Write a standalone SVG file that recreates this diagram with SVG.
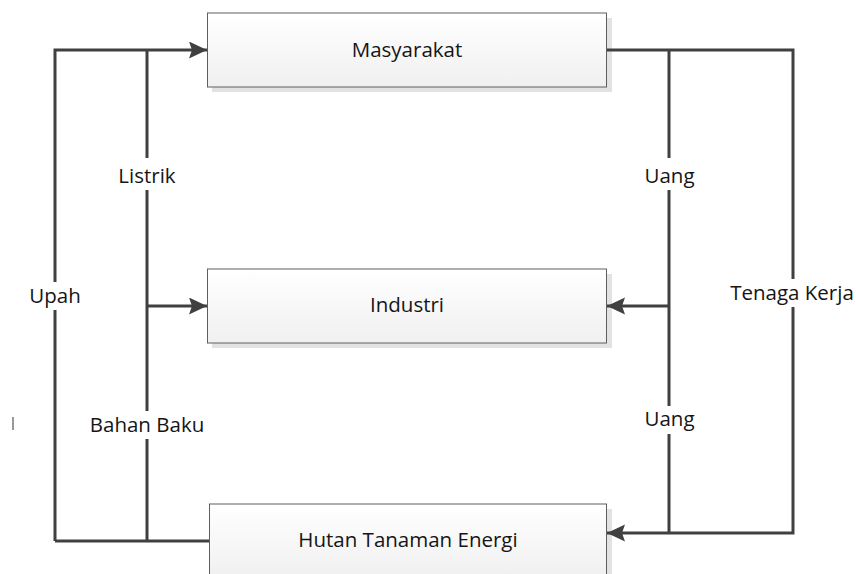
<svg xmlns="http://www.w3.org/2000/svg" width="856" height="574" viewBox="0 0 856 574">
<defs>
<linearGradient id="g" x1="0" y1="0" x2="0" y2="1">
<stop offset="0" stop-color="#ffffff"/>
<stop offset="1" stop-color="#f0f0f0"/>
</linearGradient>
<marker id="ah" markerUnits="userSpaceOnUse" markerWidth="20" markerHeight="18" refX="18" refY="8.5" orient="auto">
<path d="M0,0 L18,8.5 L0,17 L3,8.5 Z" fill="#404040"/>
</marker>
</defs>
<style>
.box{fill:url(#g);stroke:#5e5e5e;stroke-width:1}
.sh{fill:#e2e2e2}
.t{font-family:"Open Sans","Liberation Sans",sans-serif;font-size:20.5px;fill:#151515;text-anchor:middle}
.c{fill:none;stroke:#404040;stroke-width:3}
.bg{fill:#ffffff}
</style>
<rect width="856" height="574" fill="#ffffff"/>
<g id="masyarakat">
<rect class="sh" x="212" y="18" width="400" height="74"/>
<rect class="box" x="207.5" y="13" width="399" height="74"/>
<text class="t" x="407" y="57">Masyarakat</text>
</g>
<g id="industri">
<rect class="sh" x="212" y="274" width="400" height="74"/>
<rect class="box" x="207.5" y="269" width="399" height="74"/>
<text class="t" x="407" y="312">Industri</text>
</g>
<g id="hutan">
<rect class="sh" x="214" y="509" width="398" height="74"/>
<rect class="box" x="209.5" y="504" width="397" height="74"/>
<text class="t" x="408" y="547">Hutan Tanaman Energi</text>
</g>
<g id="connectors">
<path class="c" d="M147,541 L147,50"/>
<path class="c" d="M55,541 L55,50 L207,50" marker-end="url(#ah)"/>
<path class="c" d="M147,306 L207,306" marker-end="url(#ah)"/>
<path class="c" d="M209,541 L55,541"/>
<path class="c" d="M607,50 L793,50 L793,533 L607,533" marker-end="url(#ah)"/>
<path class="c" d="M669,50 L669,533"/>
<path class="c" d="M669,306 L607,306" marker-end="url(#ah)"/>
<path d="M13,417 L13,430" stroke="#777" stroke-width="1.5"/>
<rect class="bg" x="115" y="158" width="64" height="32"/>
<text class="t" x="147" y="183">Listrik</text>
<rect class="bg" x="27" y="282" width="56" height="28"/>
<text class="t" x="55" y="303">Upah</text>
<rect class="bg" x="89" y="411" width="116" height="28"/>
<text class="t" x="147" y="432">Bahan Baku</text>
<rect class="bg" x="642" y="158" width="55" height="32"/>
<text class="t" x="669.5" y="183">Uang</text>
<rect class="bg" x="642" y="406" width="55" height="28"/>
<text class="t" x="669.5" y="426">Uang</text>
<rect class="bg" x="729" y="279" width="127" height="28"/>
<text class="t" x="792" y="300">Tenaga Kerja</text>
</g>
</svg>
